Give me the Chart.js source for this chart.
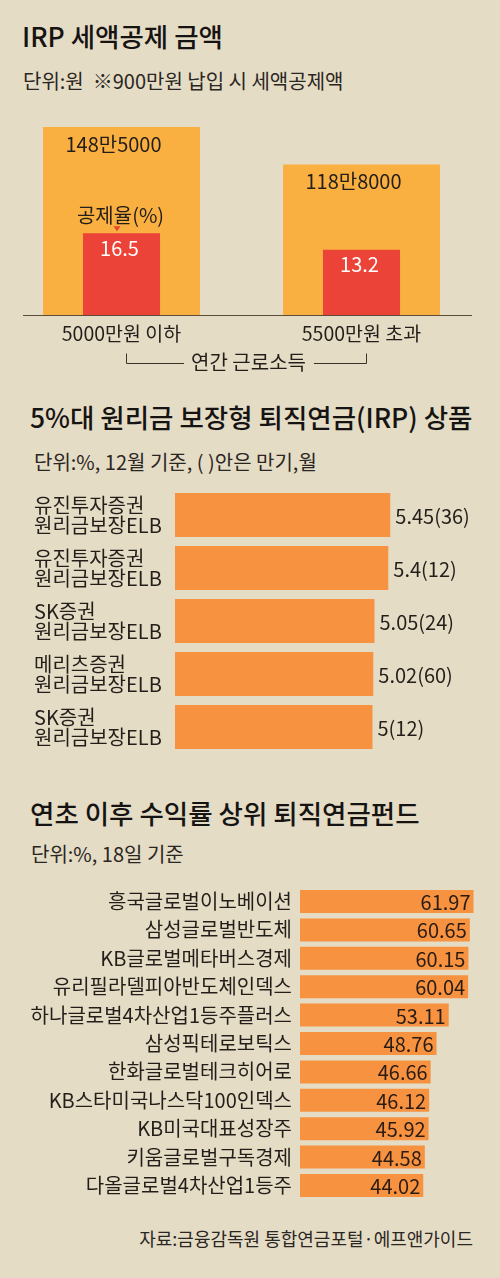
<!DOCTYPE html>
<html><head><meta charset="utf-8">
<script src="https://cdn.jsdelivr.net/npm/chart.js@4.4.1/dist/chart.umd.min.js"></script>
<style>
html,body{margin:0;padding:0;}
body{width:500px;height:1278px;background:#e5dcc6;position:relative;overflow:hidden;font-family:"Noto Sans CJK KR","Noto Sans",sans-serif;color:#1c1a17;}
.t{position:absolute;white-space:nowrap;line-height:30px;}
.title{font-size:26.5px;font-weight:500;color:#161412;}
.sub{font-size:20px;color:#2a2622;}
.src{font-size:18px;color:#2a2622;}
canvas{position:absolute;left:0;}
</style></head><body>
<div class="t title" style="left:22px;top:21px">IRP 세액공제 금액</div>
<div class="t sub" style="left:23px;top:66px">단위:원 &nbsp;※900만원 납입 시 세액공제액</div>
<canvas id="c1" width="500" height="280" style="top:100px"></canvas>
<div class="t title" style="left:30px;top:402px">5%대 원리금 보장형 퇴직연금(IRP) 상품</div>
<div class="t sub" style="left:34px;top:447px">단위:%, 12월 기준, ( )안은 만기,월</div>
<canvas id="c2" width="500" height="300" style="top:470px"></canvas>
<div class="t title" style="left:30px;top:798px">연초 이후 수익률 상위 퇴직연금펀드</div>
<div class="t sub" style="left:31px;top:839px">단위:%, 18일 기준</div>
<canvas id="c3" width="500" height="340" style="top:870px"></canvas>
<div class="t src" style="right:27px;top:1223px">자료:금융감독원 통합연금포털·에프앤가이드</div>
<script>
// ---- data ----
const incomeCategories = ['5000만원 이하', '5500만원 초과'];
const incomeGroupLabel = '연간 근로소득';
const deductionAmounts = [1485000, 1188000];   // 원
const deductionRates = [16.5, 13.2];           // %
const rateNote = '공제율(%)';

const irpProducts = [
  ['유진투자증권', '원리금보장ELB'],
  ['유진투자증권', '원리금보장ELB'],
  ['SK증권', '원리금보장ELB'],
  ['메리츠증권', '원리금보장ELB'],
  ['SK증권', '원리금보장ELB']
];
const irpRates = [5.45, 5.4, 5.05, 5.02, 5];
const irpMaturities = [36, 12, 24, 60, 12];

const fundNames = [
  '흥국글로벌이노베이션', '삼성글로벌반도체', 'KB글로벌메타버스경제',
  '유리필라델피아반도체인덱스', '하나글로벌4차산업1등주플러스', '삼성픽테로보틱스',
  '한화글로벌테크히어로', 'KB스타미국나스닥100인덱스', 'KB미국대표성장주',
  '키움글로벌구독경제', '다올글로벌4차산업1등주'
];
const fundReturns = [61.97, 60.65, 60.15, 60.04, 53.11, 48.76, 46.66, 46.12, 45.92, 44.58, 44.02];

// ---- setup ----
const FONT = '"Noto Sans CJK KR", "Noto Sans", sans-serif';
Chart.defaults.font.family = FONT;
const TXT = '#231e19';

function fmtWon(v) {
  const man = Math.floor(v / 10000), rest = v % 10000;
  return man + '만' + (rest ? rest : '');
}

const chart1Labels = {
  id: 'chart1Labels',
  afterDatasetsDraw(chart) {
    const ctx = chart.ctx;
    const amt = chart.getDatasetMeta(0).data;
    const rate = chart.getDatasetMeta(1).data;
    const area = chart.chartArea;
    ctx.save();
    ctx.textAlign = 'center';
    ctx.textBaseline = 'middle';
    // baseline
    ctx.strokeStyle = '#5b4c3c';
    ctx.lineWidth = 1;
    ctx.beginPath();
    ctx.moveTo(area.left + 21.5, Math.round(area.bottom) + 0.5);
    ctx.lineTo(area.right - 9.5, Math.round(area.bottom) + 0.5);
    ctx.stroke();
    // amount labels
    ctx.fillStyle = TXT;
    ctx.font = '20px ' + FONT;
    amt.forEach((el, i) => ctx.fillText(fmtWon(deductionAmounts[i]), el.x - 8, el.y + 17));
    // rate labels
    ctx.fillStyle = '#ffffff';
    ctx.font = '20px ' + FONT;
    rate.forEach((el, i) => ctx.fillText(deductionRates[i].toFixed(1), el.x - 2, el.y + 15));
    // note above first rate bar
    const r0 = rate[0];
    ctx.fillStyle = TXT;
    ctx.font = '20px ' + FONT;
    ctx.fillText(rateNote, r0.x - 1, r0.y - 18);
    ctx.fillStyle = '#e0452f';
    ctx.beginPath();
    ctx.moveTo(r0.x - 8, r0.y - 7);
    ctx.lineTo(r0.x - 1, r0.y - 7);
    ctx.lineTo(r0.x - 4.5, r0.y - 2);
    ctx.closePath();
    ctx.fill();
    // bracket with group label
    const xs = chart.scales.x;
    const left = Math.round(xs.getPixelForValue(0) + 4.5) + 0.5;
    const right = Math.round(xs.getPixelForValue(1) + 4.5) + 0.5;
    const cx = (left + right) / 2 + 2;
    const yb = area.bottom + 48.5;
    ctx.font = '20px ' + FONT;
    const w = ctx.measureText(incomeGroupLabel).width;
    ctx.fillStyle = TXT;
    ctx.fillText(incomeGroupLabel, cx, yb - 1);
    ctx.strokeStyle = '#3a332c';
    ctx.beginPath();
    ctx.moveTo(left, yb - 10);
    ctx.lineTo(left, yb);
    ctx.lineTo(cx - w / 2 - 7, yb);
    ctx.moveTo(cx + w / 2 + 8, yb);
    ctx.lineTo(right, yb);
    ctx.lineTo(right, yb - 10);
    ctx.stroke();
    ctx.restore();
  }
};

new Chart(document.getElementById('c1'), {
  type: 'bar',
  data: {
    labels: incomeCategories,
    datasets: [
      { data: deductionAmounts, backgroundColor: '#f9b040', yAxisID: 'yAmt', barPercentage: 0.654, categoryPercentage: 1, grouped: false, order: 2 },
      { data: deductionRates, backgroundColor: '#eb4337', yAxisID: 'yRate', barPercentage: 0.321, categoryPercentage: 1, grouped: false, order: 1 }
    ]
  },
  options: {
    responsive: false, animation: false, devicePixelRatio: 1,
    layout: { padding: { left: 1.5, right: 18.5, top: 15, bottom: 0 } },
    plugins: { legend: { display: false }, tooltip: { enabled: false } },
    scales: {
      x: {
        grid: { display: false, drawTicks: false }, border: { display: false },
        ticks: { font: { size: 19.5 }, color: TXT, padding: 7 },
        afterFit(s) { s.height = 65; s.paddingLeft = 0; s.paddingRight = 0; }
      },
      yAmt: { display: false, min: 0, max: 1580000 },
      yRate: { display: false, min: 0, max: 40.4 }
    }
  },
  plugins: [chart1Labels]
});

const chart2Labels = {
  id: 'chart2Labels',
  afterDatasetsDraw(chart) {
    const ctx = chart.ctx;
    ctx.save();
    ctx.fillStyle = TXT;
    ctx.font = '20px ' + FONT;
    ctx.textAlign = 'left';
    ctx.textBaseline = 'middle';
    chart.getDatasetMeta(0).data.forEach((el, i) => {
      ctx.fillText(irpRates[i] + '(' + irpMaturities[i] + ')', el.x + 5, el.y + 1);
    });
    ctx.restore();
  }
};

new Chart(document.getElementById('c2'), {
  type: 'bar',
  data: { labels: irpProducts, datasets: [{ data: irpRates, backgroundColor: '#f69240', barPercentage: 0.83, categoryPercentage: 1 }] },
  options: {
    indexAxis: 'y', responsive: false, animation: false, devicePixelRatio: 1,
    layout: { padding: { left: 34, right: 88, top: 18.5, bottom: 16.5 } },
    plugins: { legend: { display: false }, tooltip: { enabled: false } },
    scales: {
      x: { display: false, min: 0, max: 6 },
      y: {
        grid: { display: false, drawTicks: false }, border: { display: false },
        ticks: { crossAlign: 'far', font: { size: 20, lineHeight: 1.0 }, color: TXT, padding: 0 },
        afterFit(s) { s.width = 141; s.paddingTop = 0; s.paddingBottom = 0; }
      }
    }
  },
  plugins: [chart2Labels]
});

const chart3Labels = {
  id: 'chart3Labels',
  afterDatasetsDraw(chart) {
    const ctx = chart.ctx;
    ctx.save();
    ctx.fillStyle = '#2a1c12';
    ctx.font = '20px ' + FONT;
    ctx.textAlign = 'right';
    ctx.textBaseline = 'middle';
    chart.getDatasetMeta(0).data.forEach((el, i) => {
      ctx.fillText(fundReturns[i].toFixed(2), el.x - 3, el.y + 1);
    });
    ctx.restore();
  }
};

new Chart(document.getElementById('c3'), {
  type: 'bar',
  data: { labels: fundNames, datasets: [{ data: fundReturns, backgroundColor: '#f69240', barPercentage: 0.81, categoryPercentage: 1 }] },
  options: {
    indexAxis: 'y', responsive: false, animation: false, devicePixelRatio: 1,
    layout: { padding: { left: 0, right: 23.6, top: 17.3, bottom: 10.3 } },
    plugins: { legend: { display: false }, tooltip: { enabled: false } },
    scales: {
      x: { display: false, min: 0, max: 63 },
      y: {
        grid: { display: false, drawTicks: false }, border: { display: false },
        ticks: { crossAlign: 'near', font: { size: 20 }, color: TXT, padding: 8 },
        afterFit(s) { s.width = 300; s.paddingTop = 0; s.paddingBottom = 0; }
      }
    }
  },
  plugins: [chart3Labels]
});
</script>
</body></html>
